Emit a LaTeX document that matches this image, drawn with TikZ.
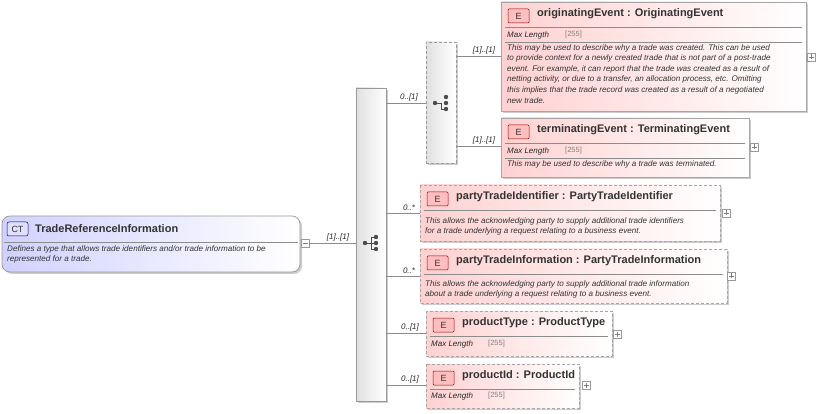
\documentclass[tikz,border=0pt]{standalone}
\usepackage{fontspec}
\setmainfont{Liberation Sans}
\begin{document}
\begin{tikzpicture}[x=1pt,y=-1pt,
  ln/.style={draw=black!45,line width=0.6pt},
  card/.style={line width=0.7pt,draw=black!35,left color=red!18,right color=white},
  opt/.style={dashed,dash pattern=on 3pt off 2pt},
  sep/.style={draw=black!45,line width=0.5pt},
  ttl/.style={anchor=west,font=\fontsize{11}{12}\selectfont\bfseries,text=black!80,inner sep=0},
  ml/.style={anchor=west,font=\fontsize{8}{9}\selectfont\itshape,text=black!85,inner sep=0},
  mv/.style={anchor=west,font=\fontsize{7.5}{9}\selectfont,text=black!50,inner sep=0},
  dsc/.style={anchor=north west,font=\fontsize{8.1}{10.6}\selectfont\itshape,text=black!80,inner sep=0,align=flush left},
  card2/.style={font=\fontsize{8}{9}\selectfont\itshape,text=black!85,inner sep=0},
  plus/.style={draw=black!40,fill=white,line width=0.4pt,minimum size=8pt,inner sep=0}
]
\useasboundingbox (0,0) rectangle (817,414);
\newcommand{\ebadge}[2]{%
  \draw[draw=red!60!black,fill=red!25,line width=0.5pt,rounded corners=1pt] (#1+7,#2+7) rectangle (#1+28,#2+21);
  \node[font=\fontsize{9}{10}\selectfont,text=black!80] at (#1+17.5,#2+14.5) {E};}
\newcommand{\pluss}[2]{\node[plus] at (#1,#2) {}; \draw[black!50,line width=0.5pt] (#1-2.5,#2)--(#1+2.5,#2) (#1,#2-2.5)--(#1,#2+2.5);}

% CT box
\fill[black!20,rounded corners=8pt] (4,218) rectangle (302,274);
\draw[line width=0.7pt,draw=black!40,left color=blue!18,right color=white,rounded corners=8pt] (2,216) rectangle (300,272);
\draw[draw=blue!50!black,fill=blue!12,line width=0.5pt,rounded corners=2pt] (7,222) rectangle (28,236);
\node[font=\fontsize{9}{10}\selectfont,text=black!80] at (17.5,229) {CT};
\node[ttl] at (35,228.5) {TradeReferenceInformation};
\draw[sep] (4,242) -- (298,242);
\node[dsc,text width=295pt] at (7,245) {Defines a type that allows trade identifiers and/or trade information to be\\represented for a trade.};
\node[plus] (ctm) at (305,243) {}; \draw[black!50,line width=0.5pt] (302.5,243)--(307.5,243);

% sequence bar
\fill[black!20] (358,90) rectangle (388,403);
\node[draw=black!40,line width=0.6pt,left color=black!12,right color=white,minimum width=30pt,minimum height=313pt,inner sep=0] (seq) at (371,244.5) {};
\coordinate (seqin) at (356,243);
\draw[ln] (ctm.east) -- (seqin);
\node[card2,anchor=south] at (338,241) {[1]..[1]};
\begin{scope}[shift={(371,243)},black!70]
 \fill (-6,0) circle (2.2pt); \draw[line width=0.9pt] (-6,0)--(0,0) (0,-6)--(0,6) (0,-6)--(5,-6) (0,0)--(5,0) (0,6)--(5,6);
 \fill (5,-6) circle (2.2pt) (5,0) circle (2.2pt) (5,6) circle (2.2pt);
\end{scope}

% choice box
\fill[black!20] (428,44) rectangle (458,165);
\node[draw=black!40,opt,line width=0.6pt,left color=black!12,right color=white,minimum width=30pt,minimum height=121pt,inner sep=0] (ch) at (441,102.5) {};
\begin{scope}[shift={(441,103)},black!70]
 \fill (-6,0) circle (2.2pt); \draw[line width=0.9pt] (-6,0)--(0,0)--(0,6)--(5,6);
 \fill (5,-6) circle (2.2pt) (5,0) circle (2.2pt) (5,6) circle (2.2pt);
\end{scope}
\coordinate (s1) at (386,103); \draw[ln] (s1) -- (ch.west|-s1);
\node[card2,anchor=south] at (409,101) {0..[1]};

% originatingEvent
\fill[black!20] (503,4) rectangle (808,113);
\draw[card] (501,2) rectangle (806,111);
\coordinate (oe) at (501,56);
\ebadge{501}{2}
\node[ttl] at (537,13.5) {originatingEvent : OriginatingEvent};
\draw[sep] (505,27) -- (802,27);
\node[ml] at (507,35.5) {Max Length}; \node[mv] at (565,35) {[255]};
\draw[sep] (505,42) -- (802,42);
\node[dsc,text width=300pt] at (507,44) {This may be used to describe why a trade was created. This can be used\\to provide context for a newly created trade that is not part of a post-trade\\event. For example, it can report that the trade was created as a result of\\netting activity, or due to a transfer, an allocation process, etc. Omitting\\this implies that the trade record was created as a result of a negotiated\\new trade.};
\pluss{811}{57}
\draw[ln] (ch.east|-oe) -- (oe); \node[card2,anchor=south] at (484,54) {[1]..[1]};

% terminatingEvent
\fill[black!20] (503,120) rectangle (751,179);
\draw[card] (501,118) rectangle (749,177);
\coordinate (te) at (501,146);
\ebadge{501}{118}
\node[ttl] at (537,129.5) {terminatingEvent : TerminatingEvent};
\draw[sep] (505,143) -- (745,143);
\node[ml] at (507,151.5) {Max Length}; \node[mv] at (565,151) {[255]};
\draw[sep] (505,158) -- (745,158);
\node[dsc,text width=240pt] at (507,160) {This may be used to describe why a trade was terminated.};
\pluss{754}{147}
\draw[ln] (ch.east|-te) -- (te); \node[card2,anchor=south] at (484,144) {[1]..[1]};

% partyTradeIdentifier
\fill[black!20] (422,187) rectangle (722,243);
\draw[card,opt] (420,185) rectangle (720,241);
\coordinate (pti) at (420,213);
\ebadge{420}{185}
\node[ttl] at (456,196.5) {partyTradeIdentifier : PartyTradeIdentifier};
\draw[sep] (424,210) -- (716,210);
\node[dsc,text width=295pt] at (425,217) {This allows the acknowledging party to supply additional trade identifiers\\for a trade underlying a request relating to a business event.};
\pluss{726}{213}
\draw[ln] (seq.east|-pti) -- (pti); \node[card2,anchor=south] at (409,211) {0..*};

% partyTradeInformation
\fill[black!20] (422,251) rectangle (729,305);
\draw[card,opt] (420,249) rectangle (727,303);
\coordinate (ptinf) at (420,276);
\ebadge{420}{249}
\node[ttl] at (456,260.5) {partyTradeInformation : PartyTradeInformation};
\draw[sep] (424,274) -- (723,274);
\node[dsc,text width=300pt] at (425,280) {This allows the acknowledging party to supply additional trade information\\about a trade underlying a request relating to a business event.};
\pluss{731}{276}
\draw[ln] (seq.east|-ptinf) -- (ptinf); \node[card2,anchor=south] at (409,274) {0..*};

% productType
\fill[black!20] (428,313) rectangle (614,358);
\draw[card,opt] (426,311) rectangle (612,356);
\coordinate (pt) at (426,333);
\ebadge{426}{311}
\node[ttl] at (462,322.5) {productType : ProductType};
\draw[sep] (430,336) -- (608,336);
\node[ml] at (431,344.5) {Max Length}; \node[mv] at (488,344) {[255]};
\pluss{617}{334}
\draw[ln] (seq.east|-pt) -- (pt); \node[card2,anchor=south] at (410,331) {0..[1]};

% productId
\fill[black!20] (428,366) rectangle (581,410);
\draw[card,opt] (426,364) rectangle (579,408);
\coordinate (pid) at (426,385);
\ebadge{426}{364}
\node[ttl] at (462,375.5) {productId : ProductId};
\draw[sep] (430,389) -- (575,389);
\node[ml] at (431,396.5) {Max Length}; \node[mv] at (488,396) {[255]};
\pluss{586}{385}
\draw[ln] (seq.east|-pid) -- (pid); \node[card2,anchor=south] at (410,383) {0..[1]};
\end{tikzpicture}
\end{document}
